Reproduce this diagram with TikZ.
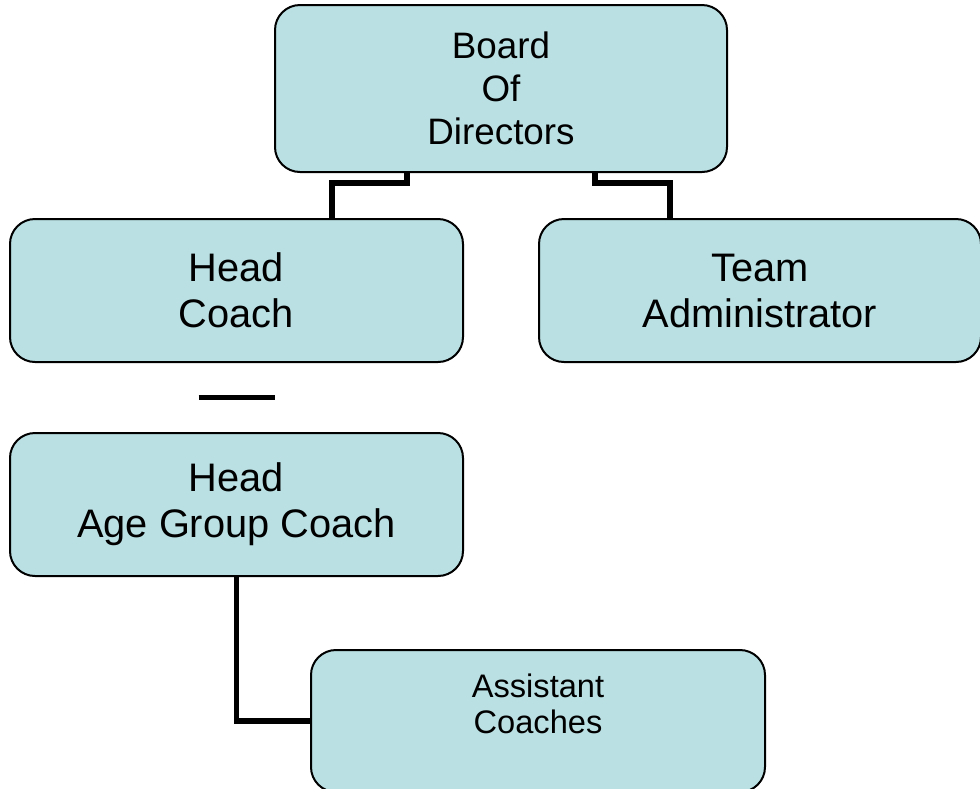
\documentclass[tikz,border=0pt]{standalone}
\usepackage{fontspec}
\setmainfont{Liberation Sans}
\usetikzlibrary{calc}
\definecolor{BoxBlue}{RGB}{186,224,227}

\begin{document}
\begin{tikzpicture}[x=0.5pt,y=-0.5pt,
    box/.style={draw=black,line width=1pt,fill=BoxBlue,rounded corners=12.5pt,inner sep=0pt,align=center},
    conn/.style={line width=2.75pt}]

    % Fix the frame of the picture
    \useasboundingbox (0,0) rectangle (980,788);
    \clip (0,0) rectangle (980,788);

    % Board at the top
    \node[box,minimum width=226pt,minimum height=83.5pt,font=\fontsize{18.4}{21.5}\selectfont] (board) at (501,88.5) {Board\\Of\\Directors};

    % Second row: head coach and team administrator
    \node[box,minimum width=226.5pt,minimum height=71.5pt,font=\fontsize{19.9}{23}\selectfont] (hc) at (236.5,290.5) {Head\\Coach};
    \node[box,minimum width=221pt,minimum height=71.5pt,font=\fontsize{19.9}{23}\selectfont] (ta) at (760,290.5) {Team\\Administrator};

    % Third row: head age group coach
    \node[box,minimum width=226.5pt,minimum height=71.5pt,font=\fontsize{19.9}{23}\selectfont] (hagc) at (236.5,504.5) {Head\\Age Group Coach};

    % Assistant coaches, text sits high in the box
    \node[box,minimum width=227pt,minimum height=71pt,
        label={[align=center,yshift=8.5pt,font=\fontsize{16.3}{18}\selectfont]center:{Assistant\\Coaches}}] (asst) at (538,721) {};

    % Elbow lines from the board
    \draw[conn] ($(board.south)+(-94,0)$) -- ++(0,10) -| ($(hc.north)+(95.5,0)$);
    \draw[conn] ($(board.south)+(94,0)$) -- ++(0,10) -| ($(ta.north)+(-90,0)$);

    % Short bar between head coach and head age group coach
    \draw[conn] ($(hc.south)!0.5!(hagc.north)+(-38,0)$) -- ++(76,0);

    % Line down to the assistant coaches
    \draw[conn] (hagc.south) |- (asst.west);

\end{tikzpicture}
\end{document}
